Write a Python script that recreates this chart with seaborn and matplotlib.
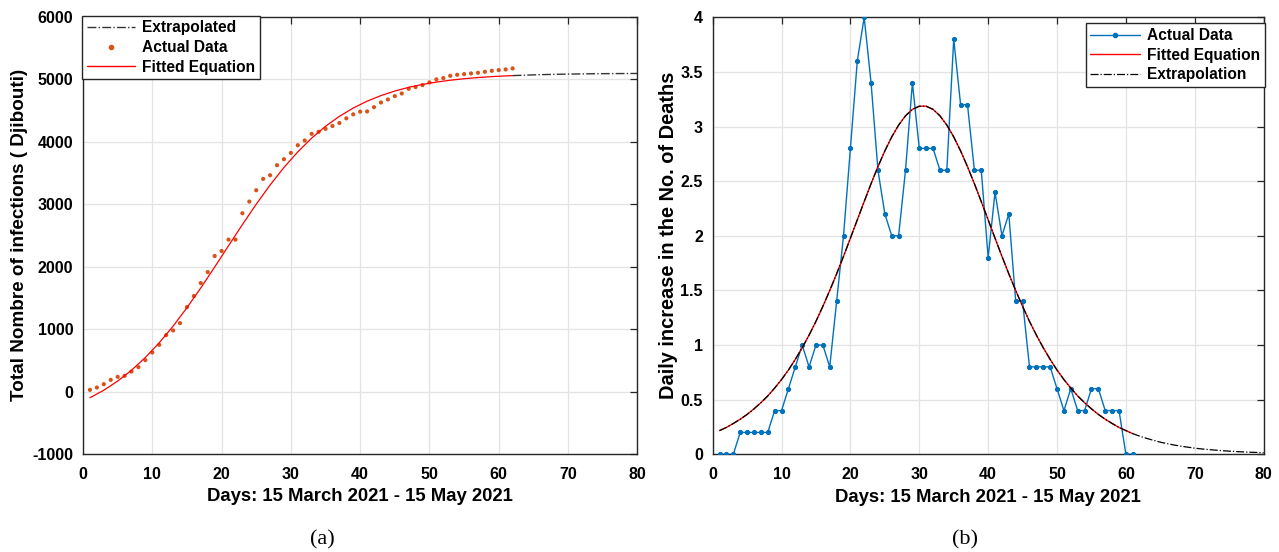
import matplotlib
matplotlib.use("Agg")
import matplotlib.pyplot as plt
import numpy as np
import seaborn as sns
from matplotlib.lines import Line2D

# (a) cumulative infections, Djibouti
days_a = np.arange(1, 63)
cases_a = [27, 64, 118, 187, 235, 251, 320, 390, 502, 625,
           748, 903, 978, 1095, 1351, 1528, 1736, 1912, 2169, 2249,
           2431, 2431, 2853, 3040, 3221, 3403, 3462, 3622, 3718, 3819,
           3942, 4017, 4124, 4156, 4204, 4250, 4298, 4372, 4436, 4479,
           4482, 4551, 4626, 4674, 4728, 4770, 4845, 4872, 4904, 4947,
           4995, 5016, 5053, 5069, 5080, 5091, 5101, 5117, 5133, 5144,
           5155, 5171]
fit_days_a = [1, 3, 5, 7, 9, 11, 13, 15, 17, 19, 21, 23, 25, 27, 29, 31,
              33, 35, 37, 39, 41, 43, 45, 47, 49, 51, 53, 55, 57, 59, 61, 62]
fit_a = [-100, 21, 167, 341, 545, 780, 1046, 1341, 1658, 1992, 2333, 2671,
         2998, 3305, 3586, 3836, 4056, 4245, 4404, 4537, 4647, 4736, 4809,
         4868, 4915, 4952, 4982, 5006, 5025, 5040, 5051, 5056]
ext_days_a = [62, 64, 66, 68, 70, 72, 74, 76, 78, 80]
ext_a = [5056, 5064, 5071, 5076, 5080, 5083, 5086, 5088, 5089, 5090]

# (b) daily increase in deaths
days_b = np.arange(1, 62)
deaths_b = [0, 0, 0, 0.2, 0.2, 0.2, 0.2, 0.2, 0.4, 0.4,
            0.6, 0.8, 1.0, 0.8, 1.0, 1.0, 0.8, 1.4, 2.0, 2.8,
            3.6, 4.0, 3.4, 2.6, 2.2, 2.0, 2.0, 2.6, 3.4, 2.8,
            2.8, 2.8, 2.6, 2.6, 3.8, 3.2, 3.2, 2.6, 2.6, 1.8,
            2.4, 2.0, 2.2, 1.4, 1.4, 0.8, 0.8, 0.8, 0.8, 0.6,
            0.4, 0.6, 0.4, 0.4, 0.6, 0.6, 0.4, 0.4, 0.4, 0, 0]
curve_days_b = np.arange(1, 81)
curve_b = [0.217, 0.246, 0.282, 0.321, 0.365, 0.416, 0.472, 0.534, 0.606, 0.684,
           0.771, 0.869, 0.975, 1.091, 1.217, 1.354, 1.499, 1.652, 1.812, 1.978,
           2.146, 2.313, 2.477, 2.633, 2.777, 2.905, 3.013, 3.098, 3.157, 3.186,
           3.186, 3.157, 3.098, 3.013, 2.905, 2.777, 2.633, 2.477, 2.313, 2.146,
           1.978, 1.812, 1.652, 1.499, 1.354, 1.217, 1.091, 0.975, 0.869, 0.771,
           0.684, 0.606, 0.534, 0.472, 0.416, 0.365, 0.321, 0.282, 0.246, 0.217,
           0.189, 0.166, 0.146, 0.128, 0.111, 0.097, 0.085, 0.074, 0.065, 0.056,
           0.049, 0.043, 0.038, 0.033, 0.029, 0.025, 0.022, 0.019, 0.017, 0.014]
n_fit_b = 61

xlabel = "Days: 15 March 2021 - 15 May 2021"

sns.set_theme(style="whitegrid")
plt.rcParams["font.family"] = ["Liberation Sans", "DejaVu Sans"]
plt.rcParams["font.weight"] = "bold"
plt.rcParams["axes.unicode_minus"] = False
plt.rcParams["text.color"] = "black"
plt.rcParams["axes.labelcolor"] = "black"

ORANGE = "#D95319"
BLUE = "#0072BD"
EDGE = "#262626"

fig = plt.figure(figsize=(12.79, 5.52), dpi=100)
ax_a = fig.add_axes([0.0649, 0.1775, 0.4334, 0.7924])
ax_b = fig.add_axes([0.5572, 0.1770, 0.4308, 0.7917])


def style_axes(ax):
    ax.set_facecolor("white")
    ax.grid(True, color="#e3e3e3", linewidth=0.9)
    for sp in ax.spines.values():
        sp.set_color(EDGE)
        sp.set_linewidth(1.0)
    ax.tick_params(direction="in", length=5, width=0.9, color=EDGE,
                   top=True, right=True, labelsize=11.5, labelcolor="black")
    ax.tick_params(axis="x", pad=9)
    ax.tick_params(axis="y", pad=7)
    for lab in ax.get_xticklabels() + ax.get_yticklabels():
        lab.set_fontweight("bold")


# ---- (a)
sns.lineplot(x=ext_days_a, y=ext_a, ax=ax_a, color="#333333", linewidth=1.0,
             linestyle="-.")
sns.scatterplot(x=days_a, y=cases_a, ax=ax_a, color=ORANGE, s=9,
                edgecolor="none", zorder=3)
sns.lineplot(x=fit_days_a, y=fit_a, ax=ax_a, color="#FF0000", linewidth=0.9,
             zorder=4)
ax_a.set_xlim(0, 80)
ax_a.set_ylim(-1000, 6000)
ax_a.set_xticks(range(0, 81, 10))
ax_a.set_yticks(range(-1000, 6001, 1000))
style_axes(ax_a)
ax_a.set_xlabel(xlabel, fontsize=13.3, fontweight="bold", labelpad=5)
ax_a.set_ylabel("Total Nombre of infections ( Djibouti)", fontsize=13.6,
                fontweight="bold")
ax_a.yaxis.set_label_coords(-0.099, 0.5)
handles_a = [
    Line2D([], [], color="#333333", linestyle="-.", linewidth=1.0),
    Line2D([], [], color=ORANGE, marker="o", markersize=3, linestyle="none"),
    Line2D([], [], color="#FF0000", linewidth=1.0),
]
leg_a = ax_a.legend(handles_a, ["Extrapolated", "Actual Data", "Fitted Equation"],
                    loc="upper left", bbox_to_anchor=(-0.002, 1.002),
                    borderaxespad=0, fancybox=False, framealpha=1,
                    edgecolor=EDGE, prop={"weight": "bold", "size": 11.2},
                    handlelength=3.1, labelspacing=0.3, borderpad=0.3,
                    handletextpad=0.45)
leg_a.get_frame().set_linewidth(1.0)

# ---- (b)
sns.lineplot(x=days_b, y=deaths_b, ax=ax_b, color=BLUE, linewidth=1.0,
             marker="o", markersize=3, markeredgecolor=BLUE, zorder=3)
sns.lineplot(x=curve_days_b[:n_fit_b], y=curve_b[:n_fit_b], ax=ax_b,
             color="#FF0000", linewidth=1.0, zorder=4)
sns.lineplot(x=curve_days_b, y=curve_b, ax=ax_b, color="black",
             linewidth=0.9, linestyle="-.", zorder=5)
ax_b.set_xlim(0, 80)
ax_b.set_ylim(0, 4)
ax_b.set_xticks(range(0, 81, 10))
ax_b.set_yticks(np.arange(0, 4.01, 0.5))
ax_b.set_yticklabels(["0", "0.5", "1", "1.5", "2", "2.5", "3", "3.5", "4"])
style_axes(ax_b)
ax_b.set_xlabel(xlabel, fontsize=13.3, fontweight="bold", labelpad=5)
ax_b.set_ylabel("Daily increase in the No. of Deaths", fontsize=14.4,
                fontweight="bold")
ax_b.yaxis.set_label_coords(-0.062, 0.5)
handles_b = [
    Line2D([], [], color=BLUE, linewidth=1.0, marker="o", markersize=3,
           markevery=[1]),
    Line2D([], [], color="#FF0000", linewidth=1.0),
    Line2D([], [], color="black", linestyle="-.", linewidth=0.9),
]
leg_b = ax_b.legend(handles_b, ["Actual Data", "Fitted Equation", "Extrapolation"],
                    loc="upper right", bbox_to_anchor=(1.002, 0.986),
                    borderaxespad=0, fancybox=False, framealpha=1,
                    edgecolor=EDGE, prop={"weight": "bold", "size": 11.2},
                    handlelength=3.2, labelspacing=0.3, borderpad=0.3,
                    handletextpad=0.45)
leg_b.get_frame().set_linewidth(1.0)

fig.text(0.2518, 0.022, "(a)", ha="center", va="center", fontsize=16,
         family="Liberation Serif", fontweight="normal")
fig.text(0.7545, 0.022, "(b)", ha="center", va="center", fontsize=16,
         family="Liberation Serif", fontweight="normal")

fig.savefig("out.png", dpi=100, facecolor="white")
